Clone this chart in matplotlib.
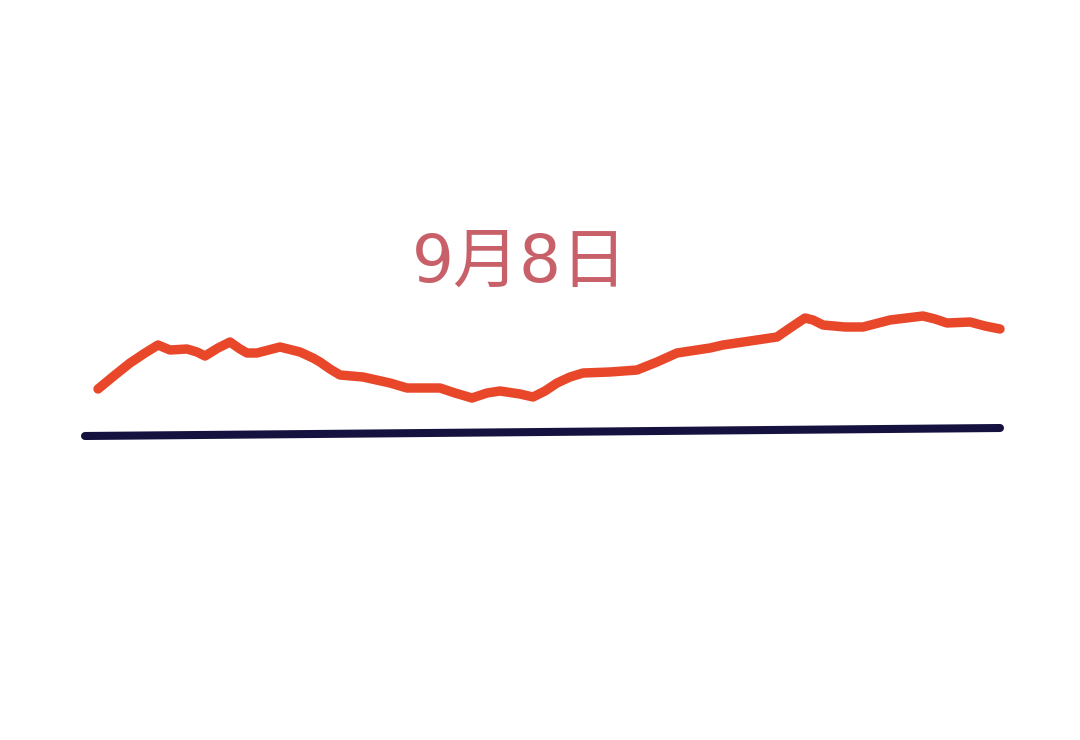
import matplotlib.pyplot as plt

plt.rcParams['font.family'] = ['DejaVu Sans', 'Noto Sans CJK SC']

# red line (x position, y value in pixel rows)
line_x = [98, 115, 130, 145, 158, 170, 187, 197, 205, 218, 230, 240, 247, 257, 280,
          300, 313, 320, 330, 340, 363, 390, 407, 440, 455, 472, 487, 500, 520, 533,
          545, 557, 570, 583, 610, 637, 657, 677, 710,
          723, 750, 777, 790, 805, 813, 823, 845, 863, 890, 923, 935, 947, 970, 985, 1000]
line_y = [389, 375, 363, 353, 345, 350, 349, 352, 356, 348, 342, 349, 353, 353, 347,
          352, 358, 362, 369, 375, 377, 383, 388, 388, 393, 398, 393, 391, 394, 397,
          391, 383, 377, 373, 372, 370, 362, 353, 348,
          345, 341, 337, 328, 318, 320, 325, 327, 327, 320, 316, 319, 323, 322, 326, 329]

base_x = [85, 1000]
base_y = [436, 428]

title = "9月8日"

fig = plt.figure(figsize=(10.8, 7.4), dpi=100)
ax = fig.add_axes([0, 0, 1, 1])
ax.set_xlim(0, 1080)
ax.set_ylim(740, 0)
ax.axis('off')

ax.plot(base_x, base_y, color='#16123F', linewidth=5.8, solid_capstyle='round')
ax.plot(line_x, line_y, color='#E8472A', linewidth=6.8,
        solid_capstyle='round', solid_joinstyle='round')

ax.text(520, 264, title, color='#C8606A', fontsize=47.5,
        ha='center', va='center')

fig.savefig('out.png', dpi=100, facecolor='white')
